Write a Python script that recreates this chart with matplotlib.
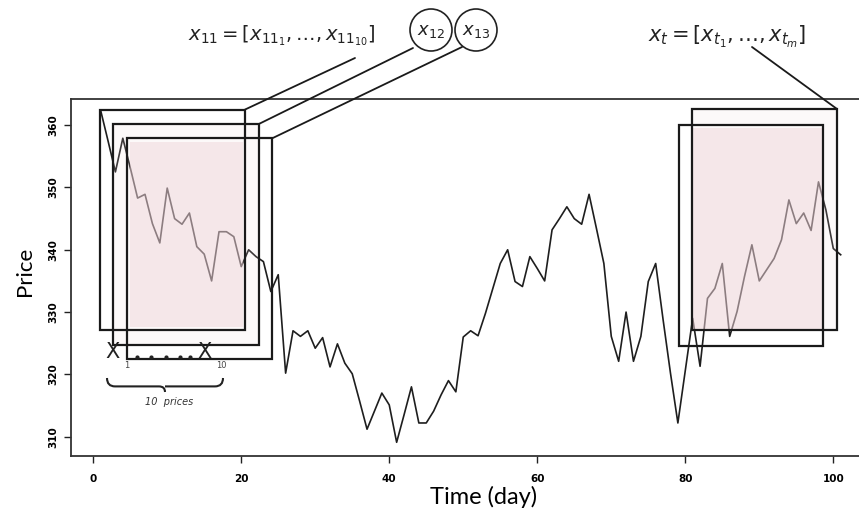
import numpy as np
import matplotlib
matplotlib.use("Agg")
import matplotlib.pyplot as plt
from matplotlib.patches import Rectangle, Ellipse, PathPatch, ConnectionPatch
from matplotlib.lines import Line2D
from matplotlib.path import Path

# daily closing price, days 1..101
days = np.arange(1, 102)
price = [362.4, 357.5, 352.5, 357.9, 353.2, 348.3, 348.9, 344.2, 341.1, 349.9,
         345.0, 344.1, 345.9, 340.5, 339.3, 335.0, 342.9, 342.9, 342.1, 337.3,
         340.0, 338.9, 338.1, 333.3, 336.0, 320.2, 327.0, 326.1, 327.0, 324.2,
         325.9, 321.2, 324.9, 321.8, 320.1, 315.7, 311.2, 314.1, 317.0, 315.1,
         309.1, 313.5, 318.0, 312.2, 312.2, 314.1, 316.7, 319.0, 317.2, 326.0,
         327.0, 326.2, 329.8, 333.8, 337.8, 340.0, 334.9, 334.1, 338.9, 337.0,
         335.0, 343.2, 345.0, 346.9, 345.0, 344.1, 348.9, 343.4, 337.8, 326.1,
         322.1, 330.0, 322.1, 326.1, 334.9, 337.8, 328.8, 320.2, 312.2, 320.6,
         329.0, 321.3, 332.2, 333.8, 337.8, 326.1, 330.1, 335.7, 340.8, 335.0,
         336.8, 338.6, 341.6, 348.0, 344.2, 345.9, 343.1, 350.9, 346.4, 340.2,
         339.2]

x_ticks = [0, 20, 40, 60, 80, 100]
y_ticks = [310, 320, 330, 340, 350, 360]

# sliding windows (day_start, day_end, price_low, price_high)
left_windows = [(0.9, 20.5, 327.1, 362.5),
                (2.7, 22.4, 324.7, 360.2),
                (4.6, 24.2, 322.5, 357.9)]
right_windows = [(80.9, 100.5, 327.1, 362.6),
                 (79.1, 98.6, 324.6, 360.1)]
pink_left = (5.0, 20.2, 327.6, 357.3)
pink_right = (81.0, 98.6, 327.1, 359.5)

W, H = 859, 515
fig = plt.figure(figsize=(W / 100, H / 100), dpi=100)
ax = fig.add_axes([71 / W, 1 - 456 / H, 799.3 / W, 357 / H])


def fx(px):
    return px / W


def fy(py):
    return 1 - py / H


ax.plot(days, price, color="#1e1e1e", lw=1.2, zorder=2)
ax.set_xlim(-3, 105)
ax.set_ylim(306.9, 364.2)

for s in ax.spines.values():
    s.set_color("#333333")
    s.set_linewidth(1.3)

tick_font = ["Liberation Sans Narrow", "DejaVu Sans"]
ax.set_xticks(x_ticks)
ax.set_yticks(y_ticks)
ax.tick_params(axis="both", length=5, width=1, color="#222222")
ax.tick_params(axis="x", pad=8)
ax.tick_params(axis="y", pad=4)
for lab in ax.get_xticklabels() + ax.get_yticklabels():
    lab.set_family(tick_font)
    lab.set_fontsize(7.5)
    lab.set_fontweight("bold")
for lab in ax.get_yticklabels():
    lab.set_rotation(90)
    lab.set_va("center")


def rect_of(w, **kw):
    return Rectangle((w[0], w[2]), w[1] - w[0], w[3] - w[2], clip_on=False, **kw)


# pink shading
ax.add_patch(rect_of(left_windows[1], facecolor="#f0d7dc", alpha=0.15, lw=0, zorder=3))
ax.add_patch(rect_of(right_windows[0], facecolor="#f0d7dc", alpha=0.15, lw=0, zorder=3))
ax.add_patch(rect_of(pink_left, facecolor="#eed2d7", alpha=0.45, lw=0, zorder=3))
ax.add_patch(rect_of(pink_right, facecolor="#eed2d7", alpha=0.45, lw=0, zorder=3))

for w in left_windows + right_windows:
    ax.add_patch(rect_of(w, facecolor="none", edgecolor="#1a1a1a", lw=1.6, zorder=4))

# labels above the plot
fig.text(fx(282), fy(36), r"$x_{11} = [x_{11_1}, \ldots, x_{11_{10}}]$",
         fontsize=14, ha="center", va="center", color="#222222")
fig.text(fx(727), fy(37), r"$x_{t} = [x_{t_1}, \ldots, x_{t_m}]$",
         fontsize=15, ha="center", va="center", color="#222222")
for cx, lab in [(431, r"$x_{12}$"), (476, r"$x_{13}$")]:
    fig.add_artist(Ellipse((fx(cx), fy(30)), 42 / W, 42 / H, transform=fig.transFigure,
                           facecolor="none", edgecolor="#222222", lw=1.2))
    fig.text(fx(cx), fy(31), lab, fontsize=13, ha="center", va="center", color="#222222")

# connectors from labels to window corners
connectors = [((355, 58), left_windows[0]), ((413, 48), left_windows[1]),
              ((462, 47), left_windows[2]), ((752, 47), right_windows[0])]
for (px, py), w in connectors:
    fig.add_artist(ConnectionPatch(xyA=(fx(px), fy(py)), coordsA=fig.transFigure,
                                   xyB=(w[1], w[3]), coordsB=ax.transData,
                                   color="#1a1a1a", lw=1.3))

# X_1 ... X_10 markers
fig.text(fx(113), fy(352), "X", fontsize=15, ha="center", va="center", color="#222222")
fig.text(fx(205), fy(352), "X", fontsize=15, ha="center", va="center", color="#222222")
fig.text(fx(127), fy(366), "1", fontsize=6, ha="center", va="center", color="#444444")
fig.text(fx(221), fy(366), "10", fontsize=6, ha="center", va="center", color="#444444")
dot_px = [137, 151, 166, 180, 190]
fig.add_artist(Line2D([fx(p) for p in dot_px], [fy(357)] * len(dot_px),
                      transform=fig.transFigure, ls="none", marker="o",
                      ms=2, color="#222222"))

# curly brace
bx0, bx1, by, bd = 107, 223, 378, 14
mid = (bx0 + bx1) / 2
pts = [(bx0, by), (bx0, by + bd * 0.6), (bx0 + 8, by + bd * 0.6),
       (mid - 6, by + bd * 0.6), (mid, by + bd * 0.6), (mid, by + bd),
       (mid, by + bd * 0.6), (mid + 6, by + bd * 0.6),
       (bx1 - 8, by + bd * 0.6), (bx1, by + bd * 0.6), (bx1, by)]
codes = [Path.MOVETO, Path.CURVE3, Path.CURVE3, Path.LINETO, Path.CURVE3, Path.CURVE3,
         Path.MOVETO, Path.LINETO, Path.LINETO, Path.CURVE3, Path.CURVE3]
pts = [(fx(a), fy(b)) for a, b in pts]
fig.add_artist(PathPatch(Path(pts, codes), transform=fig.transFigure,
                         facecolor="none", edgecolor="#222222", lw=1.5))
fig.text(fx(169), fy(402), "10  prices", fontsize=7, style="italic",
         ha="center", va="center", color="#333333")

fig.text(fx(484), fy(497), "Time (day)", fontsize=17, family=["Lato", "DejaVu Sans"],
         ha="center", va="center")
fig.text(fx(25), fy(271), "Price", fontsize=16, family=["Lato", "DejaVu Sans"],
         ha="center", va="center", rotation=90)

fig.savefig("out.png", dpi=100)
